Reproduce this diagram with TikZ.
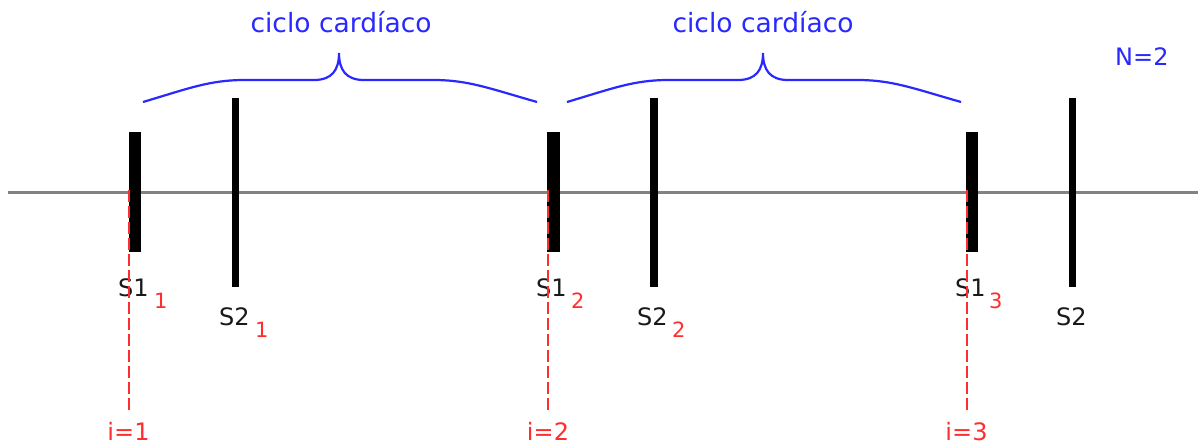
\documentclass[tikz,border=0pt]{standalone}
\usepackage{fontspec}
\setmainfont{DejaVu Sans}
\definecolor{myblue}{RGB}{40,40,255}
\definecolor{myred}{RGB}{255,45,45}
\definecolor{axisgray}{RGB}{130,130,130}
\begin{document}
\begin{tikzpicture}[x=1pt,y=-1pt,
  lbl/.style={inner sep=0pt,font=\fontsize{24}{28}\selectfont,text=black!90},
  sublbl/.style={inner sep=0pt,font=\fontsize{21}{24}\selectfont,text=myred},
  ilbl/.style={inner sep=0pt,font=\fontsize{24}{28}\selectfont,text=myred},
  bluelbl/.style={inner sep=0pt,font=\fontsize{26.5}{30}\selectfont,text=myblue},
  sonebar/.style={fill=black,draw=none,minimum width=12.5pt,minimum height=120pt,inner sep=0pt},
  stwobar/.style={fill=black,draw=none,minimum width=7.5pt,minimum height=189pt,inner sep=0pt},
  brace/.style={draw=myblue,line width=2.2pt},
  idash/.style={draw=myred,line width=2pt,dash pattern=on 12pt off 4pt}]
\useasboundingbox (0,0) rectangle (1198,444);
% axis
\coordinate (axL) at (8,192);
\coordinate (axR) at (1198,192);
\draw[axisgray,line width=3pt] (axL) -- (axR);
% bars
\node[sonebar] (s1a) at (135,192) {};
\node[stwobar] (s2a) at (235.5,192.5) {};
\node[sonebar] (s1b) at (553.7,192) {};
\node[stwobar] (s2b) at (654,192.5) {};
\node[sonebar] (s1c) at (972,192) {};
\node[stwobar] (s2c) at (1072.5,192.5) {};
% labels
\node[lbl,anchor=base west] (ls1a) at (118,296) {S1};
\node[sublbl,anchor=base west] (ls1as) at (154,308) {1};
\node[lbl,anchor=base west] (ls2a) at (219,325) {S2};
\node[sublbl,anchor=base west] (ls2as) at (255,337) {1};
\node[lbl,anchor=base west] (ls1b) at (536,296) {S1};
\node[sublbl,anchor=base west] (ls1bs) at (571,308) {2};
\node[lbl,anchor=base west] (ls2b) at (637,325) {S2};
\node[sublbl,anchor=base west] (ls2bs) at (672,337) {2};
\node[lbl,anchor=base west] (ls1c) at (955,296) {S1};
\node[sublbl,anchor=base west] (ls1cs) at (989,308) {3};
\node[lbl,anchor=base west] (ls2c) at (1056,325) {S2};
% index labels
\node[ilbl,anchor=base] (i1) at (128.5,440) {i=1};
\node[ilbl,anchor=base] (i2) at (548,440) {i=2};
\node[ilbl,anchor=base] (i3) at (966.5,440) {i=3};
\coordinate (d1) at (128.5,190);
\coordinate (d2) at (548,190);
\coordinate (d3) at (966.5,190);
\draw[idash] (d1) -- (d1 |- 0,412);
\draw[idash] (d2) -- (d2 |- 0,412);
\draw[idash] (d3) -- (d3 |- 0,412);
% braces
\draw[brace] (143,102) .. controls (190,88) and (210,80) .. (245,80) -- (314,80)
  .. controls (332,80) and (339,70) .. (339,53)
  .. controls (339,70) and (346,80) .. (364,80) -- (433,80)
  .. controls (468,80) and (488,88) .. (537,102);
\draw[brace] (567,102) .. controls (614,88) and (634,80) .. (669,80) -- (738,80)
  .. controls (756,80) and (763,70) .. (763,53)
  .. controls (763,70) and (770,80) .. (788,80) -- (857,80)
  .. controls (892,80) and (912,88) .. (961,102);
\node[bluelbl,anchor=base] (c1) at (341,33) {ciclo cardíaco};
\node[bluelbl,anchor=base] (c2) at (763,33) {ciclo cardíaco};
\node[bluelbl,anchor=base west,font=\fontsize{24}{28}\selectfont] (nn) at (1115,66) {N=2};
\end{tikzpicture}
\end{document}
